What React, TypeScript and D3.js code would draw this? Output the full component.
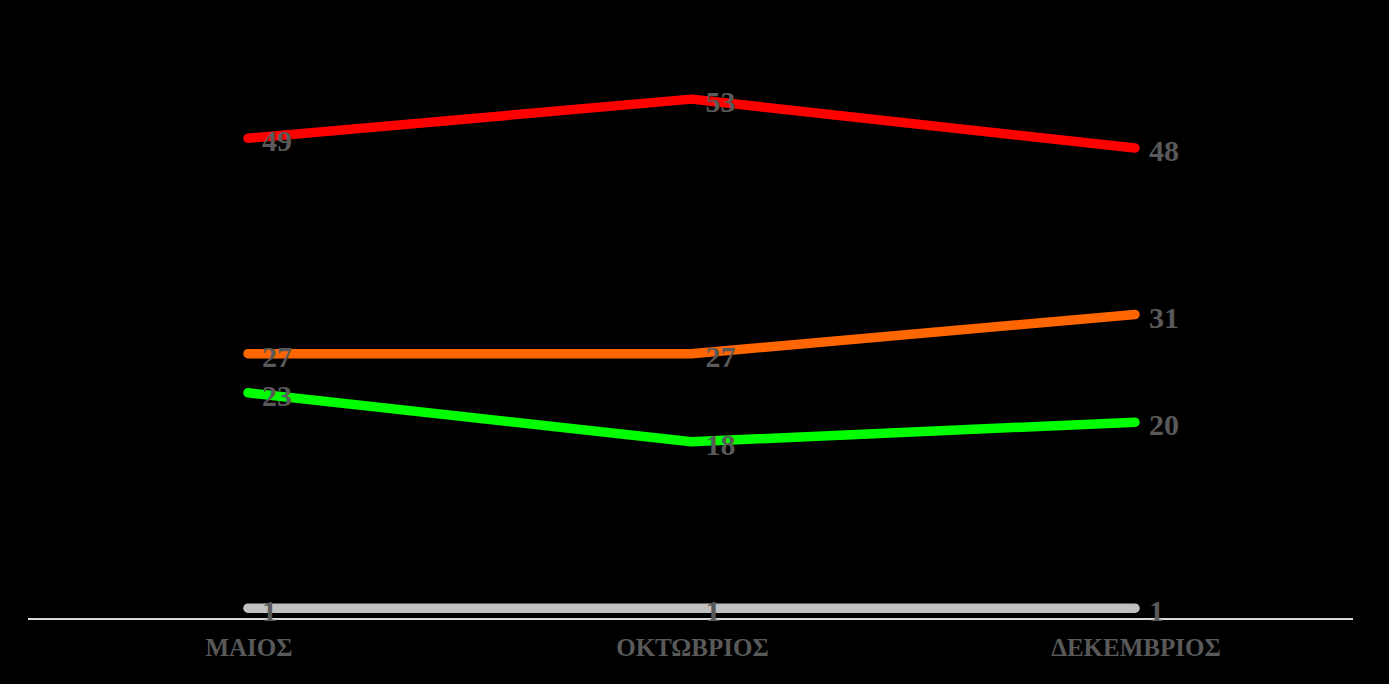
import React, { useEffect } from "react";
import * as d3 from "d3";

const categories = ["ΜΑΙΟΣ", "ΟΚΤΩΒΡΙΟΣ", "ΔΕΚΕΜΒΡΙΟΣ"];
const seriesRed = [49, 53, 48];
const seriesOrange = [27, 27, 31];
const seriesGreen = [23, 18, 20];
const seriesGray = [1, 1, 1];
const colors = ["#ff0000", "#ff6600", "#00ff00", "#c0c0c0"];

const W = 1389;
const H = 684;

export default function App() {
  useEffect(() => {
    document.body.style.margin = "0";
    document.body.style.background = "#000";
  }, []);

  const x = d3.scalePoint<string>().domain(categories).range([248, 1135]);
  const y = d3.scaleLinear().domain([0, 60]).range([618, 30.6]);
  const series = [seriesRed, seriesOrange, seriesGreen, seriesGray];
  const line = d3
    .line<number>()
    .x((_, i) => x(categories[i]) as number)
    .y((d) => y(d));

  return (
    <svg width={W} height={H} style={{ display: "block", background: "#000" }}>
      <rect x={0} y={0} width={W} height={H} fill="#000" />
      <line x1={28} x2={1353} y1={619} y2={619} stroke="#d9d9d9" strokeWidth={2} />
      {series.map((s, k) => (
        <path
          key={k}
          d={line(s) || ""}
          fill="none"
          stroke={colors[k]}
          strokeWidth={9.5}
          strokeLinecap="round"
          strokeLinejoin="round"
        />
      ))}
      {series.map((s, k) =>
        s.map((v, i) => (
          <text
            key={`${k}-${i}`}
            x={(x(categories[i]) as number) + 14}
            y={y(v) + 13}
            fill="#595959"
            fontFamily="'Liberation Serif', 'Times New Roman', serif"
            fontWeight="bold"
            fontSize={30}
          >
            {v}
          </text>
        ))
      )}
      {categories.map((c) => (
        <text
          key={c}
          x={(x(c) as number) + 1}
          y={656}
          textAnchor="middle"
          fill="#595959"
          fontFamily="'Liberation Serif', 'Times New Roman', serif"
          fontWeight="bold"
          fontSize={25}
        >
          {c}
        </text>
      ))}
    </svg>
  );
}
